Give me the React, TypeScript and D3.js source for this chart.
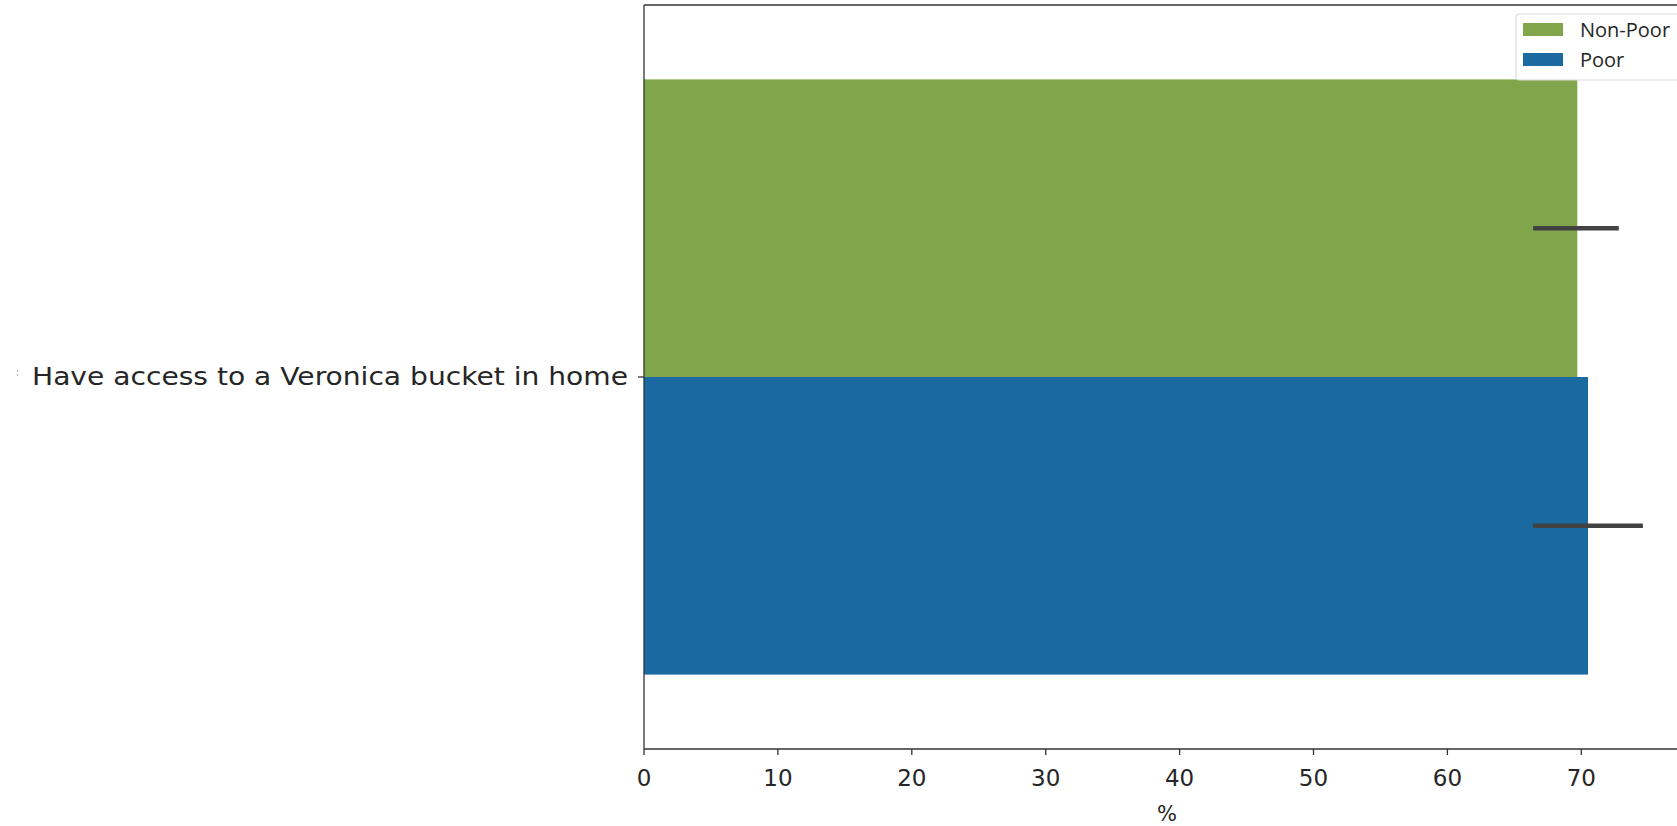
import React from "react";
import * as d3 from "d3";

const categories = ["Have access to a Veronica bucket in home"];
const groups = ["Non-Poor", "Poor"];
const values = [69.7, 70.5];
const ciLow = [66.4, 66.4];
const ciHigh = [72.8, 74.6];
const xTicks = [0, 10, 20, 30, 40, 50, 60, 70];
const colors = ["#80a54b", "#1a6aa1"];

const W = 1677;
const H = 826;
const left = 644;
const top = 5;
const bottom = 749;

export default function App() {
  const x = d3.scaleLinear().domain([0, 80]).range([left, left + 80 * 13.39]);
  const y = d3
    .scaleBand<string>()
    .domain(categories)
    .range([top, bottom])
    .paddingInner(0.2)
    .paddingOuter(0.1);
  const hue = d3
    .scaleBand<string>()
    .domain(groups)
    .range([0, y.bandwidth()]);
  const font = "'DejaVu Sans', sans-serif";

  return (
    <svg
      width={W}
      height={H}
      style={{ position: "absolute", left: 0, top: 0, background: "#fff" }}
    >
      {/* bars */}
      {categories.map((c) =>
        groups.map((g, i) => (
          <rect
            key={c + g}
            x={x(0)}
            y={(y(c) as number) + (hue(g) as number)}
            width={x(values[i]) - x(0)}
            height={hue.bandwidth()}
            fill={colors[i]}
          />
        ))
      )}
      {/* error bars */}
      {categories.map((c) =>
        groups.map((g, i) => {
          const cy = (y(c) as number) + (hue(g) as number) + hue.bandwidth() / 2;
          return (
            <line
              key={"e" + c + g}
              x1={x(ciLow[i])}
              x2={x(ciHigh[i])}
              y1={cy}
              y2={cy}
              stroke="#424242"
              strokeWidth={4.5}
            />
          );
        })
      )}
      {/* spines */}
      <line x1={left} x2={W} y1={top} y2={top} stroke="#333" strokeWidth={1.3} />
      <line x1={left} x2={left} y1={top} y2={bottom} stroke="#333" strokeWidth={1.3} />
      <line x1={left} x2={W} y1={bottom} y2={bottom} stroke="#333" strokeWidth={1.3} />
      {/* x ticks */}
      {xTicks.map((t) => (
        <g key={t}>
          <line x1={x(t)} x2={x(t)} y1={bottom} y2={bottom + 6} stroke="#333" strokeWidth={1.3} />
          <text
            x={x(t)}
            y={786}
            textAnchor="middle"
            fontFamily={font}
            fontSize={23}
            fill="#262626"
          >
            {t}
          </text>
        </g>
      ))}
      <text x={1167} y={821} textAnchor="middle" fontFamily={font} fontSize={21} fill="#262626">
        %
      </text>
      {/* y ticks */}
      {categories.map((c) => {
        const cy = (y(c) as number) + y.bandwidth() / 2;
        return (
          <g key={"yt" + c}>
            <line x1={left - 6} x2={left} y1={cy} y2={cy} stroke="#333" strokeWidth={1.3} />
            <text
              x={32}
              y={cy}
              dy="0.35em"
              textAnchor="start"
              textLength={596}
              lengthAdjust="spacingAndGlyphs"
              fontFamily={font}
              fontSize={24}
              fill="#262626"
            >
              {c}
            </text>
          </g>
        );
      })}
      <line x1={17.5} x2={17.5} y1={370} y2={377} stroke="#bbb" strokeWidth={1.2} strokeDasharray="2,2" />
      {/* legend */}
      <rect x={1516} y={14} width={200} height={66} rx={3} fill="#fff" fillOpacity={0.85} stroke="#ddd" strokeWidth={1.2} />
      {groups.map((g, i) => (
        <g key={"lg" + g}>
          <rect x={1523} y={23 + i * 30} width={40} height={13} fill={colors[i]} />
          <text x={1580} y={30 + i * 30} dy="0.35em" fontFamily="'Open Sans', sans-serif" fontSize={20} fill="#262626">
            {g}
          </text>
        </g>
      ))}
    </svg>
  );
}
